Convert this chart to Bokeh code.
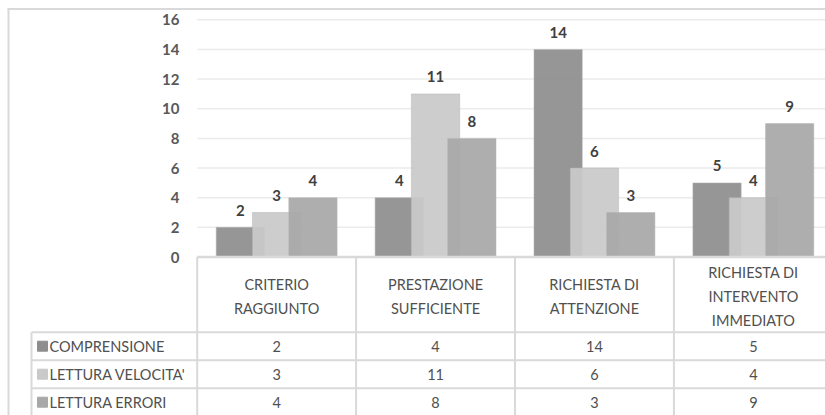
from bokeh.plotting import figure
from bokeh.models import Range1d, ColumnDataSource
from bokeh.core.properties import value
from bokeh.embed import file_html
from bokeh.resources import INLINE

# ---------------- data ----------------
categories = ["CRITERIO\nRAGGIUNTO", "PRESTAZIONE\nSUFFICIENTE",
              "RICHIESTA DI\nATTENZIONE", "RICHIESTA DI\nINTERVENTO\nIMMEDIATO"]
series_names = ["COMPRENSIONE", "LETTURA VELOCITA'", "LETTURA ERRORI"]
comprensione = [2, 4, 14, 5]
lettura_velocita = [3, 11, 6, 4]
lettura_errori = [4, 8, 3, 9]
y_ticks = [0, 2, 4, 6, 8, 10, 12, 14, 16]
series_values = [comprensione, lettura_velocita, lettura_errori]
series_colors = ["#8e8e8e", "#c9c9c9", "#a8a8a8"]

FONT = "Lato"
TXT = "#505050"
LBL = "#404040"
LINE = "#d9d9d9"
GRID = "#ebebeb"

# ---------------- geometry (canvas pixels) ----------------
W, H = 825, 415
CAT_X0 = 196.7      # left edge of first category column
CAT_W = 158.9       # category width in px
ZERO_Y = 256.5      # pixel row of value 0
UNIT_Y = 14.825     # px per value unit


def dx(px):
    return (px - CAT_X0) / CAT_W


def py(px):
    return (ZERO_Y - px) / UNIT_Y


p = figure(width=W, height=H, toolbar_location=None, output_backend="svg",
           title=None, x_axis_location=None, y_axis_location=None,
           x_range=Range1d(dx(0), dx(W)), y_range=Range1d(py(H), py(0)),
           min_border=0, outline_line_color=None,
           background_fill_color="white", border_fill_color="white")
p.grid.visible = False

x_end = dx(W + 20)
n = len(categories)
nr = len(series_names)

# outer chart border
p.segment(x0=[dx(8)], y0=[py(8)], x1=[dx(8)], y1=[py(H + 10)],
          line_color=LINE, line_width=2)
p.segment(x0=[dx(7)], y0=[py(8.5)], x1=[x_end], y1=[py(8.5)],
          line_color=LINE, line_width=2)

# horizontal gridlines
gt = y_ticks[1:]
p.segment(x0=[0] * len(gt), y0=gt, x1=[x_end] * len(gt), y1=gt,
          line_color=GRID, line_width=1.5)

# y tick labels
p.text(x=[dx(179)] * len(y_ticks), y=y_ticks, text=[str(t) for t in y_ticks],
       text_align="right", text_baseline="middle", text_font=value(FONT),
       text_font_size="15px", text_font_style="bold", text_color="#595959")

# bars and data labels
offsets = [-0.2285, 0.0, 0.2285]
bar_w = 0.304
for s, (vals, col) in enumerate(zip(series_values, series_colors)):
    xs = [i + 0.5 + offsets[s] for i in range(len(vals))]
    src = ColumnDataSource(dict(x=xs, top=vals, lab=[str(v) for v in vals]))
    p.vbar(x="x", top="top", bottom=0, width=bar_w, source=src,
           fill_color=col, fill_alpha=0.93, line_color="#b8b8b8",
           line_alpha=0.5, line_width=1)
    p.text(x="x", y="top", text="lab", source=src, y_offset=-17,
           text_align="center", text_baseline="middle",
           text_font=value(FONT), text_font_size="15px",
           text_font_style="bold", text_color=LBL)

# ---------------- data table ----------------
HEAD_BOT = 331.7
ROW_H = 28.0
x_left = dx(31)

# top line of table (value axis 0)
p.segment(x0=[0], y0=[0], x1=[x_end], y1=[0], line_color=LINE, line_width=2.5)
# vertical lines
p.segment(x0=list(range(n)), y0=[0] * n, x1=list(range(n)), y1=[py(H + 10)] * n,
          line_color=LINE, line_width=2)
p.segment(x0=[x_left], y0=[py(HEAD_BOT)], x1=[x_left], y1=[py(H + 10)],
          line_color=LINE, line_width=2)
# horizontal row lines
hy = [py(HEAD_BOT + k * ROW_H) for k in range(nr)]
p.segment(x0=[x_left] * nr, y0=hy, x1=[x_end] * nr, y1=hy,
          line_color=LINE, line_width=2)

# header texts
p.text(x=[i + 0.5 for i in range(n)], y=[py(296)] * n, text=categories,
       text_align="center", text_baseline="middle", text_line_height=1.4,
       text_font=value(FONT), text_font_size="14.5px", text_color=TXT)

# rows: legend key, series name, values
for r, (name, vals, col) in enumerate(zip(series_names, series_values, series_colors)):
    yc = py(HEAD_BOT + (r + 0.5) * ROW_H)
    p.scatter(x=[dx(42)], y=[yc], marker="square", size=10,
              fill_color=col, line_color=col)
    p.text(x=[dx(49)], y=[yc], text=[name], text_align="left",
           text_baseline="middle", text_font=value(FONT),
           text_font_size="14.5px", text_color=TXT)
    p.text(x=[i + 0.5 for i in range(len(vals))], y=[yc] * len(vals),
           text=[str(v) for v in vals], text_align="center",
           text_baseline="middle", text_font=value(FONT),
           text_font_size="14.5px", text_color=TXT)

open("out.html", "w").write(file_html(p, INLINE))
